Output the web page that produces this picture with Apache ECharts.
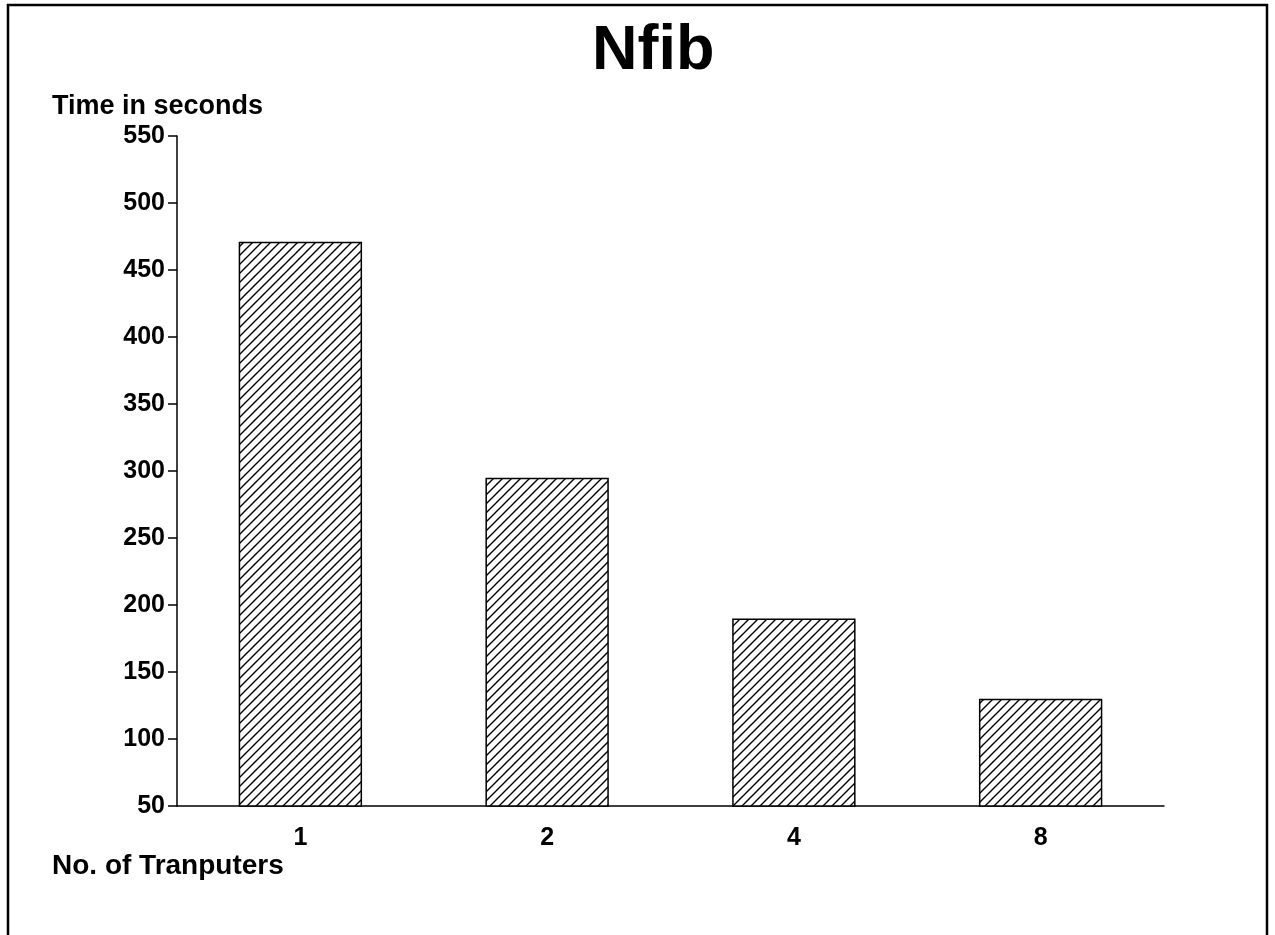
<!DOCTYPE html>
<html>
<head>
<meta charset="utf-8">
<script src="https://cdn.jsdelivr.net/npm/echarts@6/dist/echarts.min.js"></script>
<style>
html,body{margin:0;padding:0;background:#fff;}
#chart{width:1275px;height:935px;}
</style>
</head>
<body>
<div id="chart"></div>
<script>
const chartTitle = 'Nfib';
const yAxisTitle = 'Time in seconds';
const xAxisTitle = 'No. of Tranputers';
const categories = ['1', '2', '4', '8'];
const timeSeconds = [471, 295, 190, 130];
const yMin = 50, yMax = 550, yStep = 50;

function hatch() {
  const s = 9;
  const c = document.createElement('canvas');
  c.width = s; c.height = s;
  const g = c.getContext('2d');
  g.fillStyle = '#fff';
  g.fillRect(0, 0, s, s);
  g.strokeStyle = '#000';
  g.lineWidth = 1.4;
  g.beginPath();
  g.moveTo(-1, s + 1); g.lineTo(s + 1, -1);
  g.moveTo(-1, 1); g.lineTo(1, -1);
  g.moveTo(s - 1, s + 1); g.lineTo(s + 1, s - 1);
  g.stroke();
  return c;
}

const font = '"Liberation Sans", Arial, sans-serif';
const chart = echarts.init(document.getElementById('chart'), null, {renderer: 'canvas'});
chart.setOption({
  backgroundColor: '#fff',
  animation: false,
  title: {
    text: chartTitle,
    left: 587,
    top: 15,
    textStyle: {fontFamily: font, fontSize: 63, fontWeight: 'bold', color: '#000'}
  },
  grid: {left: 177, right: 111, top: 136, bottom: 129, containLabel: false},
  xAxis: {
    type: 'category',
    data: categories,
    axisLine: {lineStyle: {color: '#000', width: 1.5}},
    axisTick: {alignWithLabel: true, length: 9, lineStyle: {color: '#000', width: 1.5}},
    axisLabel: {color: '#000', fontFamily: font, fontSize: 25, fontWeight: 'bold', margin: 20}
  },
  yAxis: {
    type: 'value',
    min: yMin, max: yMax, interval: yStep,
    splitLine: {show: false},
    axisLine: {show: true, lineStyle: {color: '#000', width: 1.5}},
    axisTick: {show: true, length: 9, lineStyle: {color: '#000', width: 1.5}},
    axisLabel: {color: '#000', fontFamily: font, fontSize: 25, fontWeight: 'bold', margin: 12}
  },
  series: [{
    type: 'bar',
    data: timeSeconds,
    barWidth: '50%',
    itemStyle: {color: {image: hatch(), repeat: 'repeat'}, borderColor: '#000', borderWidth: 1.5}
  }],
  graphic: [
    {type: 'polyline', shape: {points: [[8, 935], [8, 5], [1267, 5], [1267, 935]]},
     style: {stroke: '#000', lineWidth: 2.5, fill: null}, silent: true},
    {type: 'text', left: 52, top: 93,
     style: {text: yAxisTitle, fontFamily: font, fontSize: 27, fontWeight: 'bold', fill: '#000'}},
    {type: 'text', left: 52, top: 852,
     style: {text: xAxisTitle, fontFamily: font, fontSize: 28, fontWeight: 'bold', fill: '#000'}}
  ]
});
</script>
</body>
</html>
